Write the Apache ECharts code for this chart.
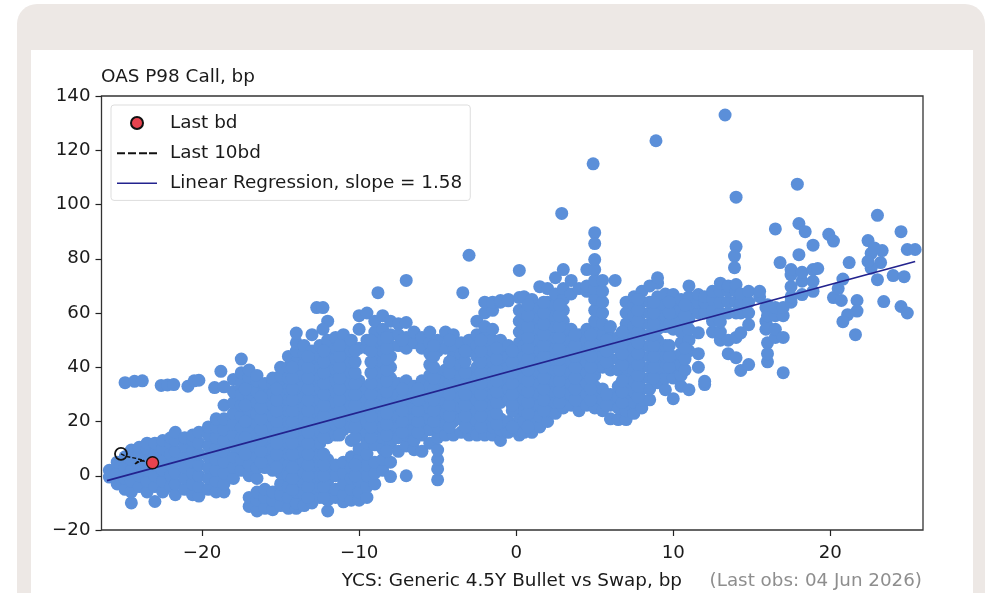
<!DOCTYPE html>
<html><head><meta charset="utf-8">
<style>
html,body{margin:0;padding:0;background:#fff;overflow:hidden}
#card{position:absolute;left:17px;top:4px;width:968px;height:640px;background:#ede8e5;border-radius:20px}
#inner{position:absolute;left:31px;top:50px;width:942px;height:600px;background:#fff}
#c{position:absolute;left:0;top:0;width:990px;height:593px}
</style>
<script src="https://cdn.jsdelivr.net/npm/echarts@6/dist/echarts.min.js"></script>
</head><body><div id="card"></div><div id="inner"></div><div id="c"></div>
<script>
const xTicks=[-20,-10,0,10,20];
const yTicks=[-20,0,20,40,60,80,100,120,140];
const lastBd=[[-23.15,4.8]];
const last10bd=[[-25.16,8.1],[-24.8,7.1],[-24.2,6.4],[-23.7,5.6],[-24.1,5.2],[-24.3,4.2],[-23.9,5.6],[-23.15,4.8]];
const regression=[[-26.05,-1.8],[25.4,79]];
const isolated=[[-24.9,34.3],[-24.3,34.8],[-23.8,35],[-22.6,33.3],[-22.2,33.5],[-21.8,33.6],[-20.9,33],[-20.5,35],[-20.2,35.2],[-19.2,32.5],[-18.6,32.8],
[-18.8,38.5],[-12.7,62],[-12.3,62],[-12,57],[-12.3,54],[-8.8,67.5],[-7,72],[-3.4,67.5],[-3,81.3],[0.2,75.7],[2.9,96.7],[5,89.6],[5,85.6],[5,79.7],[4.9,115],[6.3,72],[8.9,123.5],[13.3,133],[14,102.7],[14,84.5],[13.9,81],[13.9,76.7],[16.5,91],[16.8,78.6],[17.9,107.5],[18,93],[18.4,90],[18.9,85],[18,81.5],[19.9,89],[20.2,86.5],[21.2,78.6],[23,96],[22.4,86.7],[23.3,83],[22.6,82],[24.5,90],[24.9,83.4],[25.4,83.4],[23.2,78.6],[22.6,76.5],[23,72.3],[24,73.8],[24.7,73.4],[23.4,64.2],[24.5,62.4],[24.9,60],[20.2,65.7],[20.7,64.6],[21.7,64.6],[21.7,60.7],[21.1,59.4],[20.8,56.8],[21.6,52],[20.5,69],[20.8,72.5],[22.4,79],[22.8,84]];
// each row: x, then the y values read at that x
const columns=[
[-25.9,-0.5,2],[-25.4,-3,1,5],[-24.9,-5,-1,3,7],[-24.5,-10,-6,-2,2,6,9.5],[-24,-4,0,4,8,10.5],[-23.5,-6,-2,2,6,10,12],[-23,-9.5,-4,0,4,8,12],[-22.5,-6,-2,2,6,10,13],[-22,-4,0,4,8,12,14],[-21.7,-7,-3,1,5,9,13,16],[-21.1,-5,-1,3,7,11,14],[-20.6,-7,-3,1,5,9,13,15],[-20.2,-7.5,-4,0,4,8,12,16],[-19.6,-5,-1,3,7,11,15,18],[-19.1,-6,-2,2,6,10,14,18,21],[-18.6,-6,-3,1,5,9,13,17,21,26],
[-18,-1,3,7,11,15,19,23,27,31,35.5],[-17.5,2,6,10,14,18,22,26,30,34,38,43],[-17,-11.3,-8,0,4,8,12,16,20,24,28,32,36,39],[-16.5,-13,-9,-6,-1,3,7,11,15,19,23,27,31,35,37],[-16,-12,-8,-5,3,7,11,15,19,23,27,31,34],[-15.5,-12.5,-9,-6,2,6,10,14,18,22,26,30,34,36],[-15,-11,-7,-3,1,5,9,13,17,21,25,29,33,37,40],[-14.5,-12,-8,-4,0,4,8,12,16,20,24,28,32,36,40,44],
[-14,-12,-10,-6,-2,2,6,10,14,18,22,26,30,34,38,42,46,49,52.6],[-13.5,-11,-7,-3,1,5,9,13,17,21,25,29,33,37,41,45,48],[-13,-10,-6,-2,2,6,10,14,18,22,26,30,34,38,42,46,52],[-12.5,-8,-4,0,4,8,12,16,20,24,28,32,36,40,44,48],[-12,-13,-9,-6,-2,2,6,14,18,22,26,30,34,38,42,46,50],[-11.5,-8,-5,0,4,15,19,23,27,31,35,39,43,47,51],[-11,-9.6,-7,-3,1,5,17,21,25,29,33,37,41,45,49,52],[-10.5,-9,-5,-1,3,7,13,18,22,26,30,34,38,42,46,50],[-10,-9,-6,-2,2,6,10,15,19,23,27,31,35,47,54,59],[-9.5,-8,-4,0,4,8,12,16,20,24,28,32,47,50,60],[-9,-3,1,5,11.4,17,21,25,29,33,37,41,45,49,53,57],[-8.5,2,6,10,14,18,22,26,30,34,38,42,46,50,54,59],[-8,-0.3,5,12,16,20,24,28,32,36,40,44,48,52,57],[-7.5,9,14,18,22,26,30,34,48,52,56],[-7,0,11,15,19,23,27,31,35,47,51,56.5],[-6.5,9.6,13,17,21,25,29,33,49,53],[-6,9,15,19,23,27,31,35,47,51],[-5.5,12,17,21,25,29,33,37,41,45,49,53],[-5,-1.5,2.5,6,9.5,14,18,22,26,30,34,38,46,50],[-4.5,15,19,23,27,31,35,39,47,53],[-4,15,20,24,28,32,36,40,44,48,52],[-3.5,16,21,25,29,33,37,41,45,49],[-3,15,18,22,26,30,34,38,46,50],[-2.5,15,20,24,28,32,36,40,44,48,52,57],[-2,15,19,23,27,31,35,39,43,47,51,55,60,64],[-1.5,15,18,22,26,30,34,38,42,46,50,54,61,64],[-1,13,17,21,27,31,35,39,43,47,50,64,64.6],[-0.5,16,20,28,32,36,40,44,48,64.5,65],[0.2,15,17,21,25,29,33,37,41,45,49,53,57,61,65.7],[0.5,16,20,24,28,32,36,40,44,48,52,56,60,66],[1,16,21,25,29,33,37,41,45,49,53,57,61,65],[1.5,18,22,26,30,34,38,42,46,50,54,58,62,69.7],[2,20,24,28,32,36,40,44,48,52,56,60,64,69],[2.5,23,27,31,35,39,43,47,51,55,59,63,67,73],[3,25,29,33,37,41,45,49,53,57,61,65,69,76],[3.5,26,30,34,38,42,46,50,54,67,72],[4,24,28,32,36,40,44,48,52,69],[4.5,26,30,34,38,42,46,50,54,68,70,76],[5,25,29,33,37,41,45,49,53,57,61,65,69,72,76],[5.5,24,28,32,40,44,48,52,56,60,64,68,72],[6,21,26,30,39,43,47,51,55],[6.5,20.7,25,29,33,39,43,47,51],[7,20.7,24,28,32,36,40,44,48,52,56,60,64],[7.5,23,27,31,35,39,43,47,51,55,59,63,66],[8,25,28,32,36,40,44,48,52,56,60,64,68],[8.5,28,32,36,40,44,48,52,56,60,64,70],[9,34.3,38,42,46,50,54,58,62,66,71,73],[9.5,31.7,36,40,44,48,55,59,63,67],[10,28.4,36,40,44,54,58,62,66.8],[10.5,33,37,41,45,49,53,57,61,65],[11,31.7,46,50,54,58,62,66,70],[11.6,40,45,52.7,60,64,66.8],[12,33.6,34.8,60,64,66],[12.5,53,57,61,65,68],[13,50,53,56.8,60,64,68,71],[13.5,45,50,60,64,68,70],[14,43.5,51,60,64,68,70.5],[14.3,38.8,52.7,60,64,67],[14.8,41,55.7,60,64,68],[15.5,66,68],[15.9,54,57,62],[16,42,45,49,55,59,63],[16.5,51,54,59,62],[17,38,51,59,62],[17.5,64,66,69.7,74,76],[18.2,66.8,71.7,75],[18.9,71.7,76,68],[19.2,76.4]];
const coreColumns=[
[-17.25,8,14,20,26,32],[-16.25,5,9,13,17,21,25,29],[-15.25,3,8,12,16,20,24,28,32],[-14.25,-5,-1,3,8,12,16,20,24,28,32,36,40],[-13.25,-8,-4,0,4,8,12,16,20,24,28,32,36,40,44],[-12.25,-8,-4,0,4,8,14,18,22,26,30,34,38,42,46],[-11.25,15,20,24,28,32,36,40,44,48],[-10.25,0,4,14,18,22,26,30,34,38,42,46],[-9.25,14,18,22,26,30,34,38,42,46,50],[-8.25,9,15,19,23,27,31,35,39,43,47,51],[-7.25,16,20,24,28,32,50],[-6.25,16,20,24,28,32],[-5.25,20,24,28,32,36,40,44,48],[-4.25,18,22,26,30,34,38,42,50],[-3.25,18,22,26,30,34,38,42,46],[-2.25,18,22,26,30,34,38,42,46,50],[-1.25,19,23,27,31,35,39,43,47],[-0.25,18,24,26,30,34,38,42,46],[0.75,18,23,27,31,35,39,43,47,51,55,59,63],[1.75,24,28,32,36,40,44,48,52,56,60,64],[2.75,27,31,35,39,43,47,51,55,59,63],[3.75,28,32,36,40,44,48,52],[4.75,28,32,36,40,44,48,52],[5.75,26,30,42,46,50],[6.75,27,31,35,41,45,49,53],[7.75,29,33,37,41,45,49,53,57,61,65],[8.75,36,40,44,48,52,56,60,64],[9.75,40,44,48,56,60,64],[10.75,39,43,47,59,63]];
const mass=[];
columns.concat(coreColumns).forEach(row=>row.slice(1).forEach(y=>mass.push([row[0],y])));
const points=mass.concat(isolated);
const font='"DejaVu Sans"';
const minus=v=>String(v).replace('-','\u2212');
const solidIcon='path://M0 0L0 0M0 5H40V6.6H0ZM0 12L0 12';
const dashIcon='path://M0 0L0 0M0 5H8V7H0ZM11 5H19V7H11ZM22 5H30V7H22ZM32 5H40V7H32ZM0 12L0 12';
const chart=echarts.init(document.getElementById('c'),null,{renderer:'canvas'});
chart.setOption({
 backgroundColor:'transparent',animation:false,
 title:{text:'OAS P98 Call, bp',left:96,top:63,textStyle:{fontFamily:font,fontSize:18.4,fontWeight:'normal',color:'#1a1a1a'}},
 grid:{left:101.5,right:67,top:96,bottom:63,show:true,borderColor:'#333',borderWidth:1.3,backgroundColor:'transparent'},
 xAxis:{type:'value',min:-26.4,max:25.9,splitLine:{show:false},axisLine:{show:false,onZero:false},
  axisTick:{show:true,length:6,customValues:xTicks,lineStyle:{color:'#222',width:1.2}},
  axisLabel:{customValues:xTicks,formatter:minus,margin:14,fontFamily:font,fontSize:18.2,color:'#1a1a1a'}},
 yAxis:{type:'value',min:-20,max:140,splitLine:{show:false},axisLine:{show:false,onZero:false},
  axisTick:{show:true,length:6,customValues:yTicks,lineStyle:{color:'#222',width:1.2}},
  axisLabel:{customValues:yTicks,formatter:minus,margin:11,fontFamily:font,fontSize:18.2,color:'#1a1a1a'}},
 legend:{left:111,top:105,orient:'vertical',itemWidth:40,itemHeight:12,itemGap:12.2,padding:[9,8,8,6],backgroundColor:'#fff',borderColor:'#ddd',borderWidth:1,borderRadius:3,
  data:[{name:'Last bd',icon:'circle'},{name:'Last 10bd',icon:dashIcon},{name:'Linear Regression, slope = 1.58',icon:solidIcon}],
  textStyle:{fontFamily:font,fontSize:18.4,color:'#1a1a1a',padding:[0,0,0,8]}},
 graphic:[
  {type:'text',z:10,style:{x:682,y:581,text:'YCS: Generic 4.5Y Bullet vs Swap, bp',align:'right',verticalAlign:'middle',font:'18.4px "DejaVu Sans"',fill:'#1a1a1a'}},
  {type:'text',z:10,style:{x:922,y:581,text:'(Last obs: 04 Jun 2026)',align:'right',verticalAlign:'middle',font:'18.3px "DejaVu Sans"',fill:'#8e8e8e'}}
 ],
 series:[
  {name:'Cloud',type:'scatter',data:points,symbolSize:13,itemStyle:{color:'#5b8fd9',opacity:1},z:2,silent:true},
  {name:'Linear Regression, slope = 1.58',type:'line',data:regression,showSymbol:false,symbol:'none',lineStyle:{color:'#23238e',width:1.7},itemStyle:{color:'#23238e'},z:3},
  {name:'Last 10bd',type:'line',data:last10bd,symbol:'none',showSymbol:false,lineStyle:{color:'#111',width:1.4,type:[4,2]},itemStyle:{color:'#111'},z:4,
    markPoint:{symbol:'circle',symbolSize:12,itemStyle:{color:'transparent',borderColor:'#111',borderWidth:1.8},label:{show:false},data:[{coord:last10bd[0]}]}},
  {name:'Last bd',type:'scatter',data:lastBd,symbolSize:12,itemStyle:{color:'#e8434f',borderColor:'#111',borderWidth:1.4,opacity:1},z:5}
 ]
});
</script></body></html>
